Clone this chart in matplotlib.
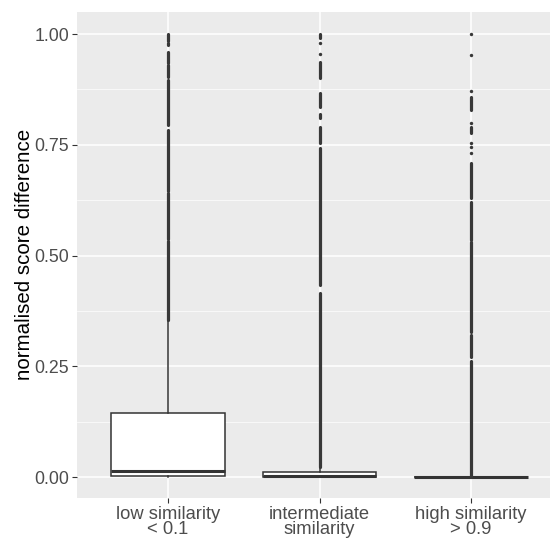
import matplotlib
matplotlib.use("Agg")
import matplotlib.pyplot as plt

plt.rcParams["font.family"] = ["Liberation Sans", "DejaVu Sans"]

# -----------------------------
# Data
# -----------------------------
categories = ["low similarity\n< 0.1", "intermediate\nsimilarity", "high similarity\n> 0.9"]
q1 = [0.002, 0.0, 0.0]
medians = [0.0135, 0.002, 0.0]
q3 = [0.144, 0.0105, 0.001]
whisker_low = [0.0, 0.0, 0.0]
whisker_high = [0.354, 0.023, 0.003]

# outliers: densely packed runs (start, end) and isolated points
low_dense = [(0.354, 0.533), (0.537, 0.641), (0.645, 0.783), (0.795, 0.896),
             (0.903, 0.930), (0.935, 0.959), (0.975, 0.980), (0.984, 1.0)]
low_points = []
mid_dense = [(0.023, 0.415), (0.433, 0.743), (0.754, 0.790), (0.810, 0.820),
             (0.835, 0.867), (0.900, 0.937), (0.990, 1.0)]
mid_points = [0.955, 0.980]
high_dense = [(0.0, 0.262), (0.270, 0.320), (0.327, 0.530), (0.535, 0.620),
              (0.630, 0.709), (0.776, 0.790), (0.828, 0.858)]
high_points = [0.731, 0.745, 0.754, 0.799, 0.871, 0.953, 1.0]

dense_runs = [low_dense, mid_dense, high_dense]
single_points = [low_points, mid_points, high_points]

# -----------------------------
# Figure
# -----------------------------
fig = plt.figure(figsize=(5.5, 5.4), dpi=100)
ax = fig.add_axes([0.14, 0.078, 0.86, 0.9])
ax.set_facecolor("#EBEBEB")

positions = [1, 2, 3]
stats = []
for i in range(3):
    stats.append({
        "med": medians[i], "q1": q1[i], "q3": q3[i],
        "whislo": whisker_low[i], "whishi": whisker_high[i], "fliers": [],
    })

ax.bxp(stats, positions=positions, widths=0.75, showfliers=False,
       showcaps=False, patch_artist=True,
       boxprops=dict(facecolor="white", edgecolor="#333333", linewidth=1.1),
       whiskerprops=dict(color="#333333", linewidth=1.1),
       medianprops=dict(color="#333333", linewidth=2.2),
       zorder=3)

outlier_color = "#383838"
for pos, runs, pts in zip(positions, dense_runs, single_points):
    for lo, hi in runs:
        lc = ax.vlines(pos, lo, hi, color=outlier_color, linewidth=2.3, zorder=4)
        lc.set_capstyle("round")
    if pts:
        ax.scatter([pos] * len(pts), pts, s=6, color=outlier_color,
                   linewidths=0, zorder=4)

# axes styling (ggplot look)
ax.set_xlim(0.4, 3.52)
ax.set_ylim(-0.047, 1.05)
ax.set_xticks(positions)
ax.set_xticklabels(categories, fontsize=13.2, color="#4D4D4D", linespacing=0.9)
ax.set_yticks([0, 0.25, 0.5, 0.75, 1.0])
ax.set_yticklabels(["0.00", "0.25", "0.50", "0.75", "1.00"], fontsize=12.8, color="#4D4D4D")
ax.set_yticks([0.125, 0.375, 0.625, 0.875], minor=True)
ax.tick_params(axis="both", which="major", length=3.5, width=0.8, color="#333333", pad=2)
ax.tick_params(axis="y", which="minor", length=0)
ax.grid(True, which="major", color="white", linewidth=1.1, zorder=0)
ax.grid(True, which="minor", axis="y", color="white", linewidth=0.5, zorder=0)
ax.set_axisbelow(True)
for s in ax.spines.values():
    s.set_visible(False)

ax.set_ylabel("normalised score difference", fontsize=14.8, color="black", labelpad=0)

fig.savefig("out.png", dpi=100)
plt.close(fig)
